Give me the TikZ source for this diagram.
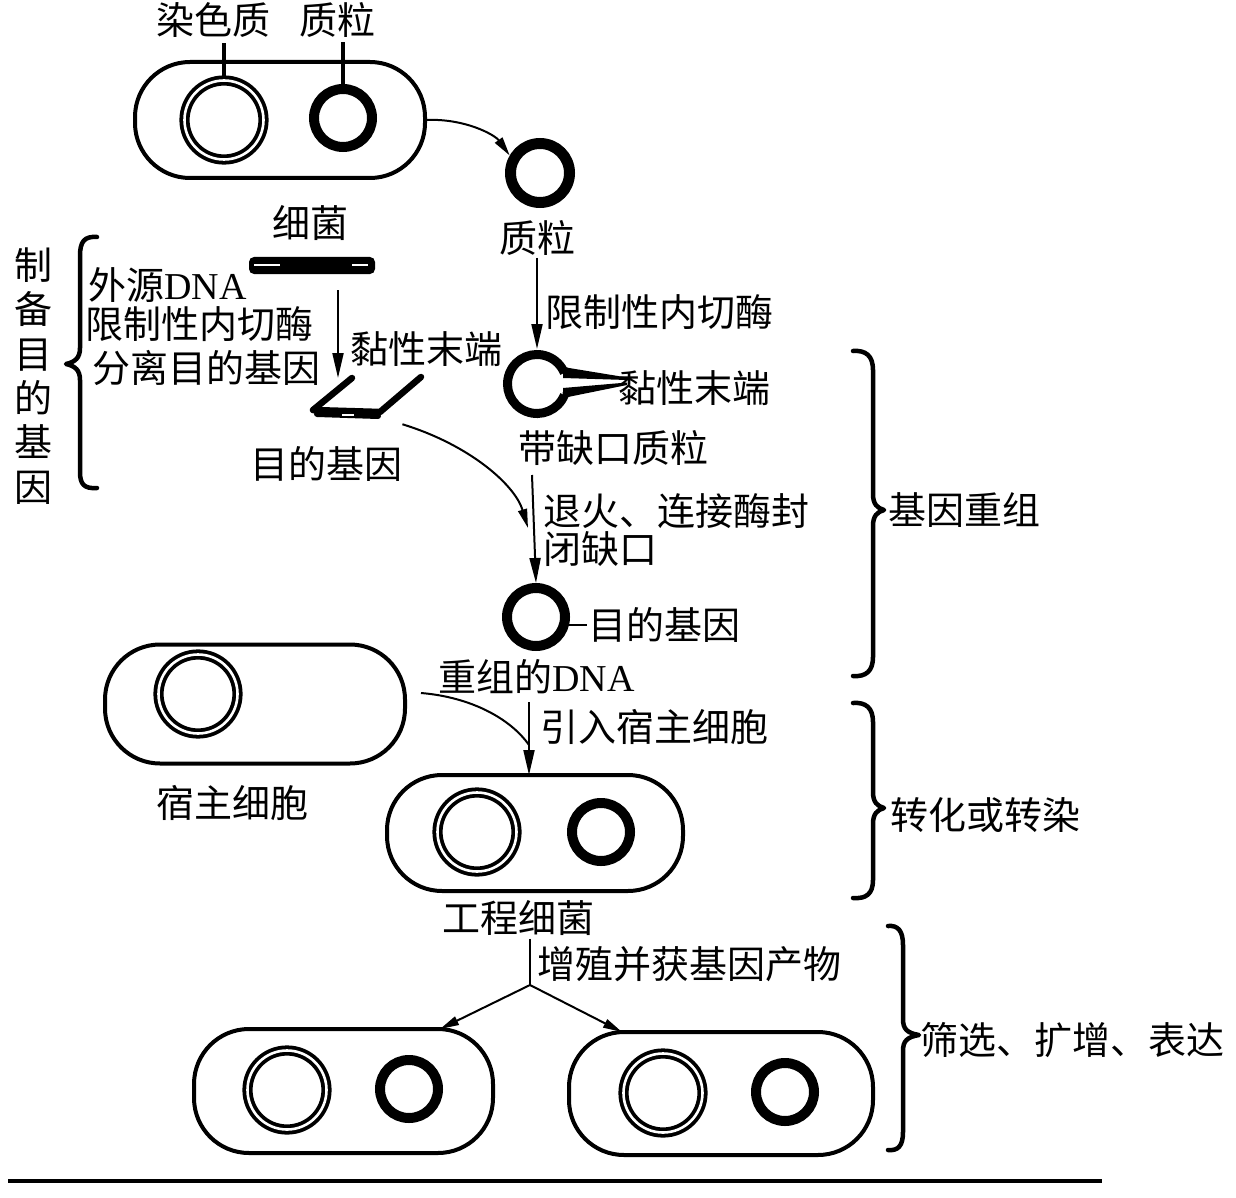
\documentclass[tikz,border=0pt]{standalone}
\usepackage{fontspec}
\setmainfont{Noto Sans CJK SC}
\newfontfamily\lat{Liberation Serif}
\usetikzlibrary{arrows.meta}
\begin{document}
\begin{tikzpicture}[x=1pt,y=-1pt,
  cell/.style={draw, line width=4pt, rounded corners=55pt, rectangle, inner sep=0pt, outer sep=0pt},
  chromo/.style={circle, draw, line width=3.8pt, double, double distance=2.6pt, minimum size=79pt, inner sep=0pt},
  plasmid/.style={circle, draw, line width=10pt, minimum size=58pt, inner sep=0pt},
  lab/.style={inner sep=0pt, font=\fontsize{38}{40}\selectfont},
  arr/.style={line width=2pt, -{Triangle[length=25pt,width=11pt]}},
  arrs/.style={line width=2pt, -{Triangle[length=19pt,width=9pt]}},
  link/.style={line width=2pt},
  tick/.style={line width=4pt},
  brace/.style={line width=4.5pt, line cap=round, line join=round}]
\useasboundingbox (0,0) rectangle (1236,1198);
\fill[white] (0,0) rectangle (1236,1198);

% ---------- top bacterium ----------
\node[cell, minimum width=290pt, minimum height=116pt] (bac) at (280,120) {};
\node[chromo] (c1) at (224,120) {};
\node[plasmid] (p1) at (343,118) {};
\node[lab] (lchr) at (213,20) {染色质};
\node[lab] (lpl) at (337,20) {质粒};
\draw[tick] (c1.north) -- ++(0,-36);
\draw[tick] (p1.north) -- ++(0,-42);
\node[lab] (lbac) at (310,223) {细菌};

% free plasmid
\node[plasmid, line width=11pt, minimum size=59pt] (p2) at (540,173) {};
\node[lab] (lp2) at (537,238) {质粒};
\draw[arrs] (bac.east) .. controls (465,118) and (495,135) .. (p2.150);

% ---------- exogenous DNA ----------
\node[inner sep=0pt, minimum width=126pt, minimum height=17pt, fill, rounded corners=5pt] (dna) at (312,265.5) {};
\draw[white, line width=2pt] (254,265.5) -- (280,265.5);
\draw[white, line width=2pt] (352,265.5) -- (368,265.5);
\node[lab, anchor=west] (lext) at (88,285) {外源{\lat DNA}};
\node[lab, anchor=west] (lenz1) at (85,324) {限制性内切酶};
\node[lab, anchor=west] (lsep) at (92,368) {分离目的基因};
\coordinate (gtop) at (338,378);
\draw[arr] (338,290) -- (gtop);
\node[lab, anchor=west] (lsticky1) at (350,349) {黏性末端};

% cut target gene
\draw[line width=6.5pt, line join=round, line cap=round] (352,378) -- (313,410) -- (380,412) -- (421,377);
\draw[line width=6pt, line cap=round] (317,414) -- (378,416);
\draw[white, line width=2pt] (342,414.5) -- (354,414.5);
\node[lab, anchor=west] (lgene1) at (250,464) {目的基因};

% ---------- plasmid cut ----------
\coordinate (cp) at (537,384);
\coordinate (cptop) at (537,349);
\draw[arr] (lp2.south |- 0,258) -- (cptop);
\node[lab, anchor=west] (lenz2) at (545,312) {限制性内切酶};
\draw[line width=9pt] (cp) +(22:29.5) arc[start angle=22, end angle=338, radius=29.5];
\fill (563,367) -- (627,377.5) -- (627,380) -- (563,378) -- cycle;
\fill (563,388) -- (627,382.5) -- (627,385) -- (563,398) -- cycle;
\fill (567,372) circle (4.5);
\fill (567,393) circle (4.5);
\node[lab, anchor=west] (lsticky2) at (618,388) {黏性末端};
\node[lab, anchor=west] (lgap) at (518,448) {带缺口质粒};

% ---------- recombination ----------
\node[plasmid] (rp) at (536,617) {};
\draw[arr] (532,475) -- (rp.north);
\draw[arrs] (lgene1.north east) ++(0,-22) .. controls (470,445) and (515,485) .. (528,528);
\node[lab, anchor=west] (lanneal) at (543,511) {退火、连接酶封};
\node[lab, anchor=west] (lclose) at (543,549) {闭缺口};
\draw[link] (rp.-13) -- ++(18,0) coordinate (gl);
\node[lab, anchor=west] (lgene2) at (588,625) {目的基因};
\node[lab, anchor=west] (lrec) at (438,677) {重组的{\lat DNA}};

% ---------- host cell ----------
\node[cell, minimum width=300pt, minimum height=119pt] (host) at (255,704) {};
\node[chromo] (c2) at (198,694) {};
\node[lab] (lhost) at (232,803) {宿主细胞};

% ---------- engineered bacterium ----------
\node[cell, minimum width=296pt, minimum height=116pt] (eng) at (535,833) {};
\node[chromo] (c3) at (477,832) {};
\node[plasmid] (p3) at (601,832) {};
\coordinate (jn) at (529,745);
\draw[arr] (529,702) -- (eng.north -| 529,0);
\draw[link] (host.east) ++(16,-11) .. controls (470,697) and (510,718) .. (jn);
\node[lab, anchor=west] (lintro) at (540,727) {引入宿主细胞};
\node[lab] (leng) at (518,918) {工程细菌};

% ---------- progeny ----------
\node[cell, minimum width=299pt, minimum height=124pt] (b1) at (343.5,1091) {};
\node[chromo] (c4) at (287,1090) {};
\node[plasmid] (p4) at (409,1089) {};
\node[cell, minimum width=304pt, minimum height=123pt] (b2) at (721,1093.5) {};
\node[chromo] (c5) at (663,1093) {};
\node[plasmid] (p5) at (785,1092) {};
\coordinate (split) at (530,985);
\draw[link] (leng.south -| split) ++(0,3) -- (split);
\draw[arrs] (split) -- (440,1029);
\draw[arrs] (split) -- (622,1032);
\node[lab, anchor=west] (lprolif) at (537,964) {增殖并获基因产物};

% ---------- braces ----------
\draw[brace] (97,237) .. controls (84,236) and (80,242) .. (80,256) -- (80,348) .. controls (80,358) and (75,362) .. (66,364) .. controls (75,366) and (80,370) .. (80,380) -- (80,472) .. controls (80,484) and (84,489) .. (97,488);
\node[inner sep=0pt, align=center, font=\fontsize{38}{44.4}\selectfont] (lprep) at (33,376) {制\\备\\目\\的\\基\\因};

\draw[brace] (853,351) .. controls (866,350) and (873,356) .. (873,370) -- (873,494) .. controls (873,504) and (877,508) .. (884,510) .. controls (877,512) and (873,516) .. (873,526) -- (873,657) .. controls (873,671) and (866,677) .. (853,676);
\node[lab, anchor=west] (lrecomb) at (888,510) {基因重组};

\draw[brace] (853,703) .. controls (866,702) and (873,708) .. (873,722) -- (873,792) .. controls (873,802) and (877,806) .. (884,808) .. controls (877,810) and (873,814) .. (873,824) -- (873,880) .. controls (873,894) and (866,899) .. (853,898);
\node[lab, anchor=west] (ltrans) at (890,815) {转化或转染};

\draw[brace] (888,926) .. controls (898,925) and (903,931) .. (903,945) -- (903,1019) .. controls (903,1029) and (907,1033) .. (919,1035) .. controls (907,1037) and (903,1041) .. (903,1051) -- (903,1132) .. controls (903,1146) and (898,1151) .. (888,1150);
\node[lab, anchor=west] (lscreen) at (920,1040) {筛选、扩增、表达};

% bottom rule
\draw[line width=4pt] (8,1181) -- (1102,1181);
\end{tikzpicture}
\end{document}
